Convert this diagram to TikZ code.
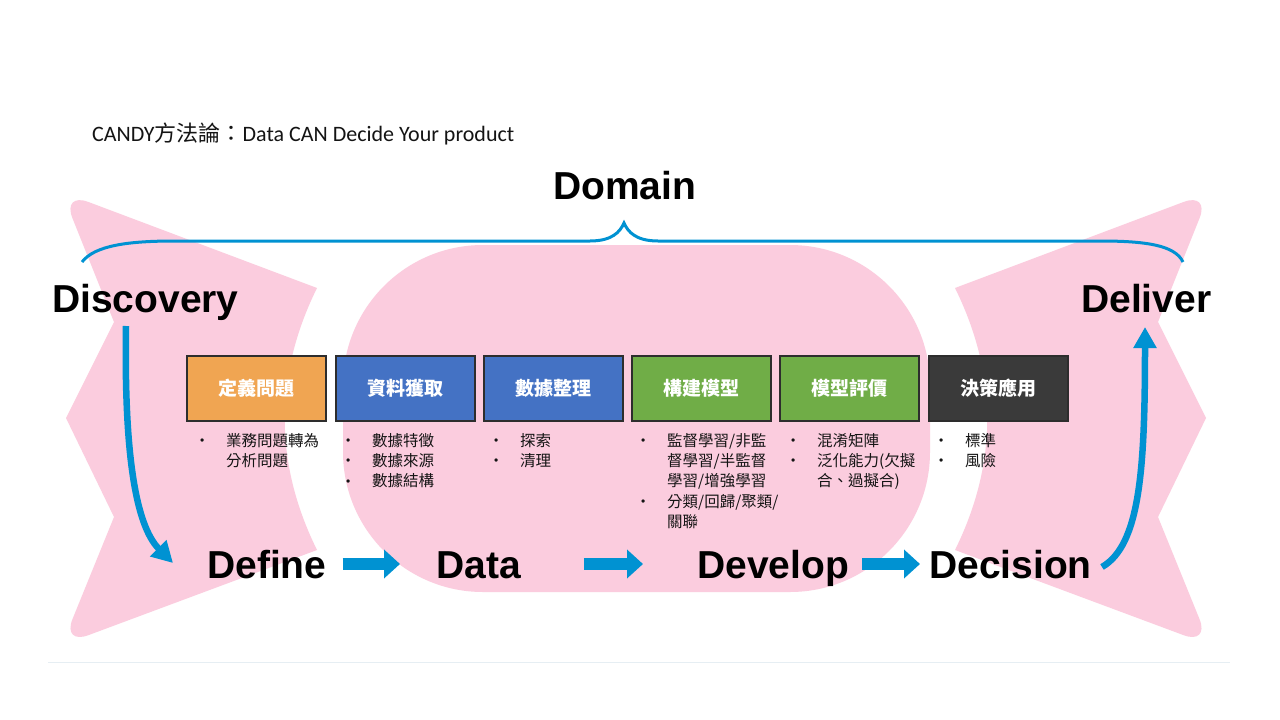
\documentclass[tikz,border=0pt]{standalone}
\usepackage{fontspec}
\usetikzlibrary{arrows.meta}
\newfontfamily\lab{Liberation Sans}
\newfontfamily\cjk{Noto Sans CJK TC}
\newfontfamily\cali{Carlito}
\definecolor{pinkc}{RGB}{251,204,222}
\definecolor{bluec}{RGB}{0,146,210}
\definecolor{orangec}{RGB}{240,165,82}
\definecolor{boxblue}{RGB}{68,114,196}
\definecolor{boxgreen}{RGB}{112,173,71}
\definecolor{boxdark}{RGB}{58,58,58}
\definecolor{bordc}{RGB}{45,45,45}
\definecolor{txtc}{RGB}{20,20,20}
\definecolor{faint}{RGB}{230,238,243}
\newcommand\bdot{\raisebox{1.5pt}{\lab\fontsize{12}{12}\selectfont •}}
\tikzset{
  lbl/.style={font=\lab\bfseries\fontsize{39}{40}\selectfont, inner sep=0pt, anchor=base west, text height=28pt, text depth=0pt},
  stepbox/.style={draw=bordc, line width=1.3pt, minimum width=139pt, minimum height=65pt, inner sep=0pt, font=\cjk\bfseries\fontsize{19}{20}\selectfont, text=white},
  blist/.style={anchor=base west, inner sep=0pt, font=\cjk\fontsize{15.5}{20.4}\selectfont, text=txtc},
  flow/.style={draw=bluec, line width=12pt, -{Triangle[width=28pt,length=16pt,fill=bluec]}},
  curvearrow/.style={draw=bluec, line width=6.5pt, -{Triangle[width=22pt,length=21pt,fill=bluec]}},
  bracepath/.style={draw=bluec, line width=3pt},
  blob/.style={fill=pinkc},
}
\begin{document}
\begin{tikzpicture}[x=1pt,y=-1pt]
\fill[white] (0,0) rectangle (1280,720);
\useasboundingbox (0,0) rectangle (1280,720);
% pink shapes
\fill[blob] (114,322) -- (72.4,218) .. controls (66.7,203.7) and (73.8,196.5) .. (88.2,201.9) -- (317,288)
  .. controls (274,375) and (274,463) .. (317,550) -- (88.3,635.2) .. controls (73.8,640.6) and (66.7,633.3) .. (72.5,619.1)
  -- (114,517) -- (66,418) -- cycle;
\fill[blob] (1158,322) -- (1199.6,218) .. controls (1205.3,203.7) and (1198.2,196.5) .. (1183.8,201.9) -- (955,288)
  .. controls (998,375) and (998,463) .. (955,550) -- (1183.7,635.2) .. controls (1198.2,640.6) and (1205.3,633.3) .. (1199.5,619.1)
  -- (1158,517) -- (1206,418) -- cycle;
\fill[blob, rounded corners=140pt] (343,245) rectangle (930,592);
% faint line
\draw[faint, line width=1pt] (48,662) -- (1230,662);
% title
\node[anchor=base west, inner sep=0pt, font=\cali\fontsize{22}{23}\selectfont, text=txtc] (title) at (92,141)
  {CANDY{\cjk 方法論：}Data CAN Decide Your product};
% brace
\node[lbl] (domain) at (553,199) {Domain};
\draw[bracepath] (82,262) .. controls (95,245) and (130,241) .. (175,241) -- (590,241)
  .. controls (612,241) and (620,232) .. (624,223) .. controls (628,232) and (636,241) .. (658,241)
  -- (1100,241) .. controls (1145,241) and (1175,245) .. (1183,262);
% labels
\node[lbl] (discovery) at (52,312) {Discovery};
\node[lbl] (deliver) at (1081,312) {Deliver};
\node[lbl] (define) at (207,578) {Define};
\node[lbl] (data) at (436,578) {Data};
\node[lbl] (develop) at (697,578) {Develop};
\node[lbl] (decision) at (929,578) {Decision};
% boxes
\node[stepbox, fill=orangec] (b1) at (256.5,388.5) {定義問題};
\node[stepbox, fill=boxblue] (b2) at (405.5,388.5) {資料獲取};
\node[stepbox, fill=boxblue] (b3) at (553.5,388.5) {數據整理};
\node[stepbox, fill=boxgreen] (b4) at (701.5,388.5) {構建模型};
\node[stepbox, fill=boxgreen] (b5) at (849.5,388.5) {模型評價};
\node[stepbox, fill=boxdark] (b6) at (998.5,388.5) {決策應用};
% lists
\node[blist] (l1) at (200,446) {\begin{tabular}[t]{@{}p{26pt}@{}l@{}}\bdot & 業務問題轉為\\ & 分析問題\end{tabular}};
\node[blist] (l2) at (346,446) {\begin{tabular}[t]{@{}p{26pt}@{}l@{}}\bdot & 數據特徵\\ \bdot & 數據來源\\ \bdot & 數據結構\end{tabular}};
\node[blist] (l3) at (494,446) {\begin{tabular}[t]{@{}p{26pt}@{}l@{}}\bdot & 探索\\ \bdot & 清理\end{tabular}};
\node[blist] (l4) at (641,446) {\begin{tabular}[t]{@{}p{26pt}@{}l@{}}\bdot & 監督學習/非監\\ & 督學習/半監督\\ & 學習/增強學習\\ \bdot & 分類/回歸/聚類/\\ & 關聯\end{tabular}};
\node[blist] (l5) at (791,446) {\begin{tabular}[t]{@{}p{26pt}@{}l@{}}\bdot & 混淆矩陣\\ \bdot & 泛化能力(欠擬\\ & 合、過擬合)\end{tabular}};
\node[blist] (l6) at (939,446) {\begin{tabular}[t]{@{}p{26pt}@{}l@{}}\bdot & 標準\\ \bdot & 風險\end{tabular}};
% flow arrows
\draw[flow, shorten <=16pt, shorten >=36pt] (define.east) -- (data.west);
\draw[flow, shorten <=63pt, shorten >=54pt] (data.east) -- (develop.west);
\draw[flow, shorten <=13pt, shorten >=9pt] (develop.east) -- (decision.west);
% curved arrows
\coordinate (dsc) at (126,326);
\coordinate (dfe) at (173,563);
\draw[curvearrow] (dsc) .. controls (124,450) and (135,525) .. (dfe);
\coordinate (dcs) at (1102,567);
\coordinate (dlv) at (1145,327);
\draw[curvearrow] (dcs) .. controls (1140,545) and (1145,470) .. (dlv);
\end{tikzpicture}
\end{document}
